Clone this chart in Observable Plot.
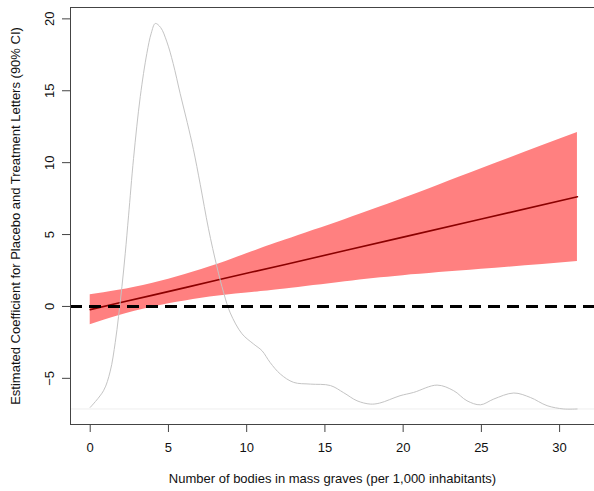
<!DOCTYPE html>
<html>
<head>
<meta charset="utf-8">
<script src="https://cdn.jsdelivr.net/npm/d3@7"></script>
<script src="https://cdn.jsdelivr.net/npm/@observablehq/plot@0.6"></script>
<style>
  html, body { margin: 0; padding: 0; background: white; }
</style>
</head>
<body>
<div id="chart"></div>
<script>
// X values at which the fit and 90% CI are read
const fitX  = [0, 1.81, 3.94, 6.07, 8.2, 10.34, 12.47, 16.3, 20, 25, 31.14];
const fitY  = [-0.22, 0.24, 0.77, 1.31, 1.85, 2.39, 2.92, 3.89, 4.82, 6.08, 7.63];
const ciLow = [-1.27, -0.65, -0.05, 0.38, 0.72, 0.97, 1.21, 1.72, 2.14, 2.58, 3.13];
const ciHigh = [0.81, 1.12, 1.60, 2.22, 2.95, 3.80, 4.62, 6.05, 7.50, 9.58, 12.10];

// Density curve of the moderator (rescaled onto the coefficient axis)
const densX = [0, 0.85, 1.28, 1.6, 1.81, 2.03, 2.24, 2.45, 2.77, 3.2, 3.62, 3.9, 4.16, 4.5, 4.9, 5.3, 5.75, 6.2, 6.6, 7.03, 7.56, 8.1, 8.53, 8.95, 9.7, 10.45, 10.98, 11.5, 12.15, 13.0, 14.07, 15.35, 16.2, 17.05, 17.9, 18.5, 19.8, 20.67, 22.17, 23.23, 24.08, 24.94, 25.79, 27.07, 28.13, 29.2, 30.26, 31.12];
const densY = [-7.02, -5.86, -4.5, -2.5, -0.7, 1.4, 3.7, 6.3, 10.3, 14.6, 17.6, 19.0, 19.68, 19.4, 18.4, 16.9, 14.8, 12.8, 10.9, 8.5, 5.4, 2.75, 0.95, -0.45, -1.9, -2.62, -3.08, -3.9, -4.7, -5.28, -5.4, -5.5, -6.0, -6.56, -6.79, -6.72, -6.21, -5.98, -5.47, -5.86, -6.56, -6.84, -6.44, -6.02, -6.33, -6.9, -7.13, -7.13];
const densityBaseline = -7.13;

const xTicks = [0, 5, 10, 15, 20, 25, 30];
const yTicks = [-5, 0, 5, 10, 15, 20];
const xTitle = "Number of bodies in mass graves (per 1,000 inhabitants)";
const yTitle = "Estimated Coefficient for Placebo and Treatment Letters (90% CI)";

const xDomain = [-1.26, 32.23];
const yDomain = [-8.21, 20.79];

const band = fitX.map((x, i) => ({x, fit: fitY[i], lo: ciLow[i], hi: ciHigh[i]}));
const density = densX.map((x, i) => ({x, y: densY[i]}));

const chart = Plot.plot({
  width: 594,
  height: 491,
  marginLeft: 70,
  marginRight: 0,
  marginTop: 7,
  marginBottom: 67,
  x: {domain: xDomain},
  y: {domain: yDomain},
  style: {fontFamily: "'Liberation Sans', Arial, sans-serif", fontSize: "13px", background: "white", color: "#111"},
  marks: [
    Plot.ruleY([densityBaseline], {stroke: "#eeeeee", strokeWidth: 1}),
    Plot.areaY(band, {x: "x", y1: "lo", y2: "hi", fill: "#ff8080", curve: "natural"}),
    Plot.line(band, {x: "x", y: "fit", stroke: "#8b0000", strokeWidth: 1.6}),
    Plot.line(density, {x: "x", y: "y", stroke: "#c4c4c4", strokeWidth: 1, curve: "catmull-rom"}),
    Plot.ruleY([0], {stroke: "black", strokeWidth: 3, strokeDasharray: "12,7"}),
    Plot.ruleY([yDomain[1], yDomain[0]], {stroke: "#444", strokeWidth: 1}),
    Plot.ruleX([xDomain[0]], {stroke: "#444", strokeWidth: 1}),
    Plot.axisX({ticks: xTicks, tickSize: 8, tickPadding: 10, label: null, stroke: "#444"}),
    Plot.axisY({ticks: yTicks, tickSize: 8, tickPadding: 9, tickRotate: -90, label: null, stroke: "#444"}),
    Plot.text([xTitle], {frameAnchor: "bottom", dy: 58, fill: "#111"}),
    Plot.text([yTitle], {frameAnchor: "left", dx: -55, rotate: -90, textAnchor: "middle", fill: "#111"})
  ]
});
document.getElementById("chart").appendChild(chart);
</script>
</body>
</html>
